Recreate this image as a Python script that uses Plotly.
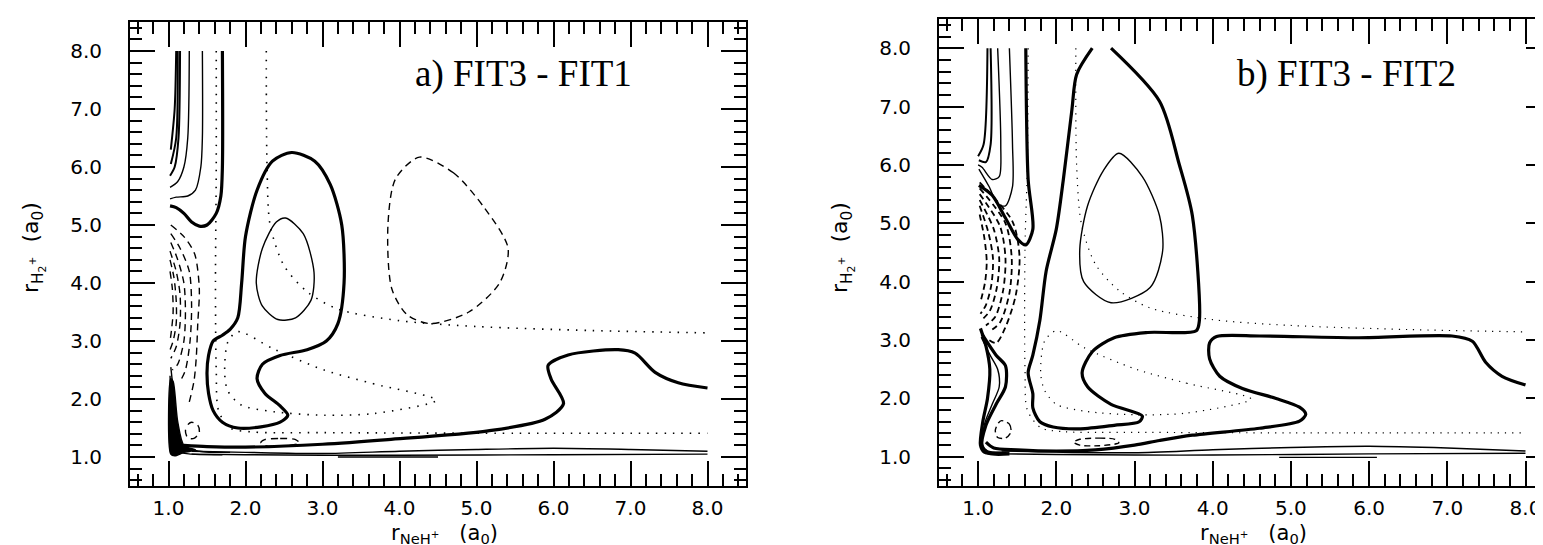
import plotly.graph_objects as go

# ---------------- axis / label data ----------------
TICK_VALS = [1, 2, 3, 4, 5, 6, 7, 8]
TICK_TEXT = ["1.0", "2.0", "3.0", "4.0", "5.0", "6.0", "7.0", "8.0"]
PANEL_TITLES = ["a) FIT3 - FIT1", "b) FIT3 - FIT2"]
X_TITLE = "r<sub>NeH<sup>+</sup></sub>   (a<sub>0</sub>)"
Y_TITLE = "r<sub>H<sub>2</sub><sup>+</sup></sub>  (a<sub>0</sub>)"

# ---------------- panel a contour traces (data coords) ----------------
a_thick1_x = [1.70, 1.58, 1.52, 1.50, 1.52, 1.58, 1.70, 1.90, 2.20, 2.45, 2.55, 2.45, 2.25, 2.15, 2.22, 2.45, 2.80, 3.05, 3.20, 3.28, 3.25, 3.10, 2.90, 2.60, 2.35, 2.15, 2.00, 1.95, 1.90, 1.80, 1.70]
a_thick1_y = [3.10, 3.00, 2.75, 2.45, 2.10, 1.80, 1.60, 1.50, 1.52, 1.60, 1.72, 1.88, 2.10, 2.35, 2.60, 2.75, 2.85, 3.00, 3.30, 4.00, 5.00, 5.70, 6.10, 6.25, 6.10, 5.60, 4.80, 4.00, 3.40, 3.20, 3.10]
a_thick2_x = [1.20, 1.50, 2.00, 3.00, 3.85, 5.15, 5.89, 6.13, 5.97, 5.93, 6.19, 6.84, 7.06, 7.32, 7.62, 8.00]
a_thick2_y = [1.20, 1.18, 1.17, 1.22, 1.30, 1.45, 1.65, 1.92, 2.34, 2.58, 2.76, 2.85, 2.79, 2.46, 2.28, 2.19]
a_thick3_x = [1.70, 1.70, 1.68, 1.62, 1.50, 1.40, 1.30, 1.20, 1.10, 1.02]
a_thick3_y = [8.00, 6.00, 5.50, 5.20, 5.00, 4.98, 5.05, 5.20, 5.30, 5.33]
a_thin_top1_x = [1.44, 1.44, 1.42, 1.35, 1.25, 1.10, 1.02]
a_thin_top1_y = [8.00, 6.50, 6.00, 5.60, 5.50, 5.48, 5.45]
a_thin_top2_x = [1.27, 1.25, 1.20, 1.12, 1.02]
a_thin_top2_y = [8.00, 6.50, 6.00, 5.75, 5.65]
a_thin_top3_x = [1.15, 1.13, 1.08, 1.02]
a_thin_top3_y = [8.00, 6.50, 6.00, 5.85]
a_thin_top4_x = [1.12, 1.10, 1.03]
a_thin_top4_y = [8.00, 6.50, 6.05]
a_thin_top5_x = [1.10, 1.08, 1.03]
a_thin_top5_y = [8.00, 7.00, 6.30]
a_thin_loop_x = [2.52, 2.75, 2.89, 2.85, 2.65, 2.42, 2.22, 2.14, 2.22, 2.40, 2.52]
a_thin_loop_y = [5.12, 4.85, 4.18, 3.70, 3.40, 3.37, 3.60, 4.00, 4.60, 5.05, 5.12]
a_thin_bot1_x = [1.30, 2.00, 3.00, 4.00, 5.00, 6.00, 7.00, 8.00]
a_thin_bot1_y = [1.10, 1.08, 1.06, 1.10, 1.13, 1.15, 1.13, 1.10]
a_thin_bot2_x = [1.30, 2.00, 3.00, 4.00, 6.00, 8.00]
a_thin_bot2_y = [1.05, 1.04, 1.03, 1.03, 1.04, 1.05]
a_thin_bot3_x = [3.20, 3.80, 4.50]
a_thin_bot3_y = [1.00, 1.00, 1.00]
a_thin_wall1_x = [1.03, 1.05, 1.10, 1.18, 1.40, 1.80]
a_thin_wall1_y = [2.55, 2.30, 1.60, 1.20, 1.10, 1.08]
a_thin_wall2_x = [1.02, 1.03, 1.06, 1.12, 1.30, 1.70]
a_thin_wall2_y = [2.40, 2.00, 1.40, 1.10, 1.05, 1.04]
a_dash_loop_x = [4.26, 4.70, 5.10, 5.41, 5.30, 4.90, 4.40, 4.10, 3.90, 3.85, 3.95, 4.26]
a_dash_loop_y = [6.17, 5.90, 5.30, 4.60, 4.00, 3.50, 3.30, 3.45, 3.90, 5.00, 5.80, 6.17]
a_dash_l1_x = [1.03, 1.20, 1.34, 1.40, 1.38, 1.36, 1.33, 1.27]
a_dash_l1_y = [5.00, 4.80, 4.50, 3.90, 3.30, 2.70, 2.30, 1.95]
a_dash_l2_x = [1.03, 1.15, 1.27, 1.30, 1.28, 1.22, 1.15]
a_dash_l2_y = [4.85, 4.60, 4.20, 3.60, 3.00, 2.50, 2.30]
a_dash_l3_x = [1.03, 1.12, 1.20, 1.22, 1.20, 1.12, 1.05]
a_dash_l3_y = [4.70, 4.40, 4.00, 3.50, 3.00, 2.60, 2.50]
a_dash_l4_x = [1.02, 1.10, 1.15, 1.15, 1.10, 1.03]
a_dash_l4_y = [4.55, 4.20, 3.80, 3.30, 2.90, 2.70]
a_dash_l5_x = [1.02, 1.07, 1.10, 1.10, 1.06, 1.02]
a_dash_l5_y = [4.40, 4.10, 3.70, 3.30, 3.00, 2.85]
a_dash_l6_x = [1.02, 1.05, 1.06, 1.04, 1.02]
a_dash_l6_y = [4.20, 3.90, 3.50, 3.20, 3.00]
a_dash_s1_x = [1.30, 1.38, 1.40, 1.33, 1.25, 1.22, 1.26, 1.30]
a_dash_s1_y = [1.60, 1.55, 1.42, 1.32, 1.33, 1.45, 1.57, 1.60]
a_dash_s2_x = [2.25, 2.45, 2.65, 2.70, 2.50, 2.25, 2.20, 2.25]
a_dash_s2_y = [1.30, 1.32, 1.30, 1.24, 1.19, 1.20, 1.25, 1.30]
a_dot1_x = [1.62, 1.62, 1.61, 1.62, 1.65, 1.80, 2.10, 3.00, 5.00, 8.00]
a_dot1_y = [8.00, 6.00, 4.00, 2.50, 1.80, 1.50, 1.43, 1.42, 1.41, 1.41]
a_dot2_x = [2.27, 2.28, 2.32, 2.50, 2.80, 3.20, 4.00, 5.00, 6.50, 8.00]
a_dot2_y = [8.00, 6.00, 5.00, 4.30, 3.85, 3.55, 3.35, 3.25, 3.18, 3.14]
a_dot3_x = [4.48, 3.67, 3.02, 2.37, 1.90, 1.77, 1.73, 1.77, 1.94, 2.37, 3.02, 3.67, 4.48]
a_dot3_y = [1.98, 2.26, 2.50, 2.86, 3.16, 2.98, 2.44, 2.14, 1.90, 1.78, 1.72, 1.75, 1.98]
a_wedge_x = [1.03, 1.06, 1.12, 1.20, 1.35, 1.20, 1.08, 1.03, 1.03]
a_wedge_y = [2.35, 2.30, 1.60, 1.20, 1.12, 1.08, 1.02, 1.05, 2.35]

# ---------------- panel b contour traces ----------------
b_thick1_x = [2.46, 2.26, 2.20, 2.09, 2.00, 1.87, 1.79, 1.70, 1.64, 1.70, 1.70, 1.79, 1.96, 2.31, 2.74, 3.06, 3.10, 2.70, 2.40, 2.33, 2.46, 2.74, 3.17, 3.79, 3.83, 3.74, 3.57, 3.32, 2.70]
b_thick1_y = [8.00, 7.55, 6.95, 5.75, 4.90, 4.18, 3.34, 2.74, 2.44, 2.08, 1.84, 1.60, 1.51, 1.48, 1.54, 1.60, 1.70, 1.90, 2.20, 2.44, 2.80, 3.04, 3.13, 3.16, 3.34, 5.13, 6.02, 7.09, 8.00]
b_thick2_x = [8.00, 7.70, 7.49, 7.32, 7.06, 5.87, 4.60, 4.05, 3.96, 3.96, 4.09, 4.38, 4.81, 5.11, 5.19, 5.11, 4.60, 3.74, 3.32, 3.00, 2.50, 2.00, 1.50, 1.20, 1.10]
b_thick2_y = [2.23, 2.38, 2.62, 2.98, 3.07, 3.04, 3.07, 3.06, 2.95, 2.68, 2.38, 2.17, 2.00, 1.85, 1.73, 1.61, 1.49, 1.37, 1.28, 1.20, 1.12, 1.10, 1.12, 1.15, 1.25]
b_thick3_x = [1.61, 1.64, 1.70, 1.61, 1.51, 1.35, 1.18, 1.01]
b_thick3_y = [8.00, 5.75, 4.90, 4.63, 4.72, 5.09, 5.48, 5.65]
b_thick4_x = [1.05, 1.23, 1.35, 1.35, 1.23, 1.10, 1.05, 1.14, 1.40]
b_thick4_y = [3.10, 2.74, 2.56, 2.20, 1.90, 1.54, 1.18, 1.06, 1.05]
b_thick5_x = [1.03, 1.10, 1.15, 1.12, 1.06, 1.03, 1.08, 1.30]
b_thick5_y = [3.20, 2.90, 2.50, 2.00, 1.60, 1.20, 1.08, 1.06]
b_thin_top1_x = [1.40, 1.44, 1.44, 1.35, 1.25, 1.14, 1.01]
b_thin_top1_y = [8.00, 6.35, 5.63, 5.30, 5.33, 5.63, 5.93]
b_thin_top2_x = [1.25, 1.29, 1.27, 1.18, 1.05, 1.00]
b_thin_top2_y = [8.00, 6.35, 5.80, 5.75, 5.96, 6.00]
b_thin_top3_x = [1.16, 1.16, 1.10, 1.01]
b_thin_top3_y = [8.00, 6.35, 6.05, 6.08]
b_thin_top4_x = [1.12, 1.07, 1.00]
b_thin_top4_y = [8.00, 6.35, 6.15]
b_thin_loop_x = [2.80, 3.10, 3.32, 3.36, 3.20, 2.70, 2.35, 2.30, 2.40, 2.60, 2.80]
b_thin_loop_y = [6.20, 5.80, 5.13, 4.53, 3.90, 3.64, 4.00, 4.55, 5.30, 5.90, 6.20]
b_thin_bot1_x = [1.30, 2.00, 3.00, 4.00, 5.00, 6.00, 7.00, 8.00]
b_thin_bot1_y = [1.10, 1.08, 1.07, 1.12, 1.16, 1.18, 1.15, 1.10]
b_thin_bot2_x = [1.30, 2.00, 3.00, 4.00, 6.00, 8.00]
b_thin_bot2_y = [1.05, 1.04, 1.03, 1.03, 1.05, 1.06]
b_thin_bot3_x = [4.85, 5.50, 6.10]
b_thin_bot3_y = [0.99, 0.99, 0.99]
b_thin_wall1_x = [1.04, 1.15, 1.25, 1.27, 1.18, 1.08, 1.06, 1.12, 1.40]
b_thin_wall1_y = [3.05, 2.75, 2.50, 2.20, 1.90, 1.55, 1.20, 1.10, 1.08]
b_dash_l1_x = [1.02, 1.44, 1.53, 1.48, 1.35, 1.23, 1.10]
b_dash_l1_y = [5.70, 5.03, 4.42, 3.76, 3.22, 2.95, 3.04]
b_dash_l2_x = [1.02, 1.35, 1.43, 1.40, 1.28, 1.15]
b_dash_l2_y = [5.60, 5.00, 4.40, 3.80, 3.30, 3.15]
b_dash_l3_x = [1.02, 1.28, 1.35, 1.32, 1.22, 1.10]
b_dash_l3_y = [5.50, 4.95, 4.40, 3.85, 3.40, 3.25]
b_dash_l4_x = [1.02, 1.20, 1.27, 1.24, 1.15, 1.05]
b_dash_l4_y = [5.40, 4.90, 4.40, 3.90, 3.50, 3.35]
b_dash_l5_x = [1.02, 1.13, 1.19, 1.17, 1.10, 1.03]
b_dash_l5_y = [5.30, 4.85, 4.40, 3.95, 3.60, 3.45]
b_dash_l6_x = [1.02, 1.08, 1.11, 1.09, 1.03]
b_dash_l6_y = [5.15, 4.75, 4.35, 4.00, 3.65]
b_dash_s1_x = [1.30, 1.40, 1.42, 1.35, 1.25, 1.22, 1.26, 1.30]
b_dash_s1_y = [1.62, 1.56, 1.42, 1.32, 1.33, 1.45, 1.58, 1.62]
b_dash_s2_x = [2.30, 2.55, 2.75, 2.80, 2.55, 2.30, 2.22, 2.30]
b_dash_s2_y = [1.30, 1.32, 1.30, 1.24, 1.19, 1.20, 1.25, 1.30]
b_dot1_x = [1.64, 1.63, 1.60, 1.60, 1.63, 1.80, 2.10, 3.00, 5.00, 8.00]
b_dot1_y = [8.00, 6.00, 4.60, 2.50, 1.80, 1.50, 1.43, 1.42, 1.41, 1.41]
b_dot2_x = [2.25, 2.26, 2.32, 2.50, 2.80, 3.20, 4.00, 5.00, 6.50, 8.00]
b_dot2_y = [8.00, 6.00, 5.00, 4.30, 3.85, 3.55, 3.35, 3.25, 3.18, 3.14]
b_dot3_x = [4.49, 3.67, 3.02, 2.37, 2.00, 1.85, 1.80, 1.85, 2.00, 2.37, 3.02, 3.67, 4.49]
b_dot3_y = [1.99, 2.26, 2.50, 2.86, 3.16, 2.98, 2.44, 2.14, 1.90, 1.78, 1.72, 1.75, 1.99]

THICK, THIN, MED = 3.2, 1.4, 2.0

fig = go.Figure()

def add_line(x, y, panel, width, dash="solid", fill=None):
    fig.add_trace(go.Scatter(
        x=x, y=y, mode="lines",
        line=dict(color="black", width=width, dash=dash, shape="spline", smoothing=0.8),
        fill=fill, fillcolor="black" if fill else None,
        xaxis="x" if panel == 1 else "x2", yaxis="y" if panel == 1 else "y2",
        showlegend=False, hoverinfo="skip"))

# panel a
for xs, ys in [(a_thick1_x, a_thick1_y), (a_thick2_x, a_thick2_y), (a_thick3_x, a_thick3_y)]:
    add_line(xs, ys, 1, THICK)
for xs, ys in [(a_thin_top1_x, a_thin_top1_y), (a_thin_top2_x, a_thin_top2_y), (a_thin_loop_x, a_thin_loop_y),
               (a_thin_bot1_x, a_thin_bot1_y), (a_thin_bot2_x, a_thin_bot2_y), (a_thin_bot3_x, a_thin_bot3_y),
               (a_thin_wall1_x, a_thin_wall1_y), (a_thin_wall2_x, a_thin_wall2_y)]:
    add_line(xs, ys, 1, THIN)
for xs, ys in [(a_thin_top3_x, a_thin_top3_y), (a_thin_top4_x, a_thin_top4_y), (a_thin_top5_x, a_thin_top5_y)]:
    add_line(xs, ys, 1, MED)
for xs, ys in [(a_dash_loop_x, a_dash_loop_y), (a_dash_l1_x, a_dash_l1_y), (a_dash_l2_x, a_dash_l2_y),
               (a_dash_l3_x, a_dash_l3_y), (a_dash_l4_x, a_dash_l4_y), (a_dash_l5_x, a_dash_l5_y),
               (a_dash_l6_x, a_dash_l6_y), (a_dash_s1_x, a_dash_s1_y), (a_dash_s2_x, a_dash_s2_y)]:
    add_line(xs, ys, 1, THIN, dash="7px,5px")
for xs, ys in [(a_dot1_x, a_dot1_y), (a_dot2_x, a_dot2_y), (a_dot3_x, a_dot3_y)]:
    add_line(xs, ys, 1, 1.6, dash="1.5px,7px")
add_line(a_wedge_x, a_wedge_y, 1, 1.5, fill="toself")

# panel b
for xs, ys in [(b_thick1_x, b_thick1_y), (b_thick2_x, b_thick2_y), (b_thick3_x, b_thick3_y),
               (b_thick4_x, b_thick4_y), (b_thick5_x, b_thick5_y)]:
    add_line(xs, ys, 2, THICK)
for xs, ys in [(b_thin_top1_x, b_thin_top1_y), (b_thin_top2_x, b_thin_top2_y), (b_thin_loop_x, b_thin_loop_y),
               (b_thin_bot1_x, b_thin_bot1_y), (b_thin_bot2_x, b_thin_bot2_y), (b_thin_bot3_x, b_thin_bot3_y),
               (b_thin_wall1_x, b_thin_wall1_y)]:
    add_line(xs, ys, 2, THIN)
for xs, ys in [(b_thin_top3_x, b_thin_top3_y), (b_thin_top4_x, b_thin_top4_y)]:
    add_line(xs, ys, 2, MED)
for xs, ys in [(b_dash_l1_x, b_dash_l1_y), (b_dash_l2_x, b_dash_l2_y), (b_dash_l3_x, b_dash_l3_y),
               (b_dash_l4_x, b_dash_l4_y), (b_dash_l5_x, b_dash_l5_y), (b_dash_l6_x, b_dash_l6_y)]:
    add_line(xs, ys, 2, 1.8, dash="6px,4px")
for xs, ys in [(b_dash_s1_x, b_dash_s1_y), (b_dash_s2_x, b_dash_s2_y)]:
    add_line(xs, ys, 2, THIN, dash="6px,4px")
for xs, ys in [(b_dot1_x, b_dot1_y), (b_dot2_x, b_dot2_y), (b_dot3_x, b_dot3_y)]:
    add_line(xs, ys, 2, 1.2, dash="1.2px,6px")

W, H = 1543, 545
TICKFONT = dict(family="DejaVu Sans", size=20, color="black")

def axis_common(rng, domain, anchor, show_labels=True):
    return dict(
        range=rng, domain=domain, anchor=anchor,
        tickmode="array", tickvals=TICK_VALS, ticktext=TICK_TEXT,
        showticklabels=show_labels, tickfont=TICKFONT,
        ticks="inside", ticklen=25, tickwidth=2, tickcolor="black",
        minor=dict(dtick=0.2, tick0=0, ticks="inside", ticklen=12, tickwidth=1.5, tickcolor="black"),
        showline=True, linecolor="black", linewidth=2, mirror="allticks",
        showgrid=False, zeroline=False, fixedrange=True, ticklabelstandoff=22)

fig.update_layout(
    width=W, height=H, margin=dict(l=0, r=0, t=0, b=0, autoexpand=False),
    paper_bgcolor="white", plot_bgcolor="white",
    xaxis=axis_common([0.5, 8.5], [122 / W, 738 / W], "y"),
    yaxis=axis_common([0.5, 8.5], [1 - 478 / H, 1 - 14 / H], "x"),
    xaxis2=axis_common([0.5, 0.5 + (W - 931) / 78.2], [931 / W, 1.0], "y2"),
    yaxis2=axis_common([0.5, 8.5], [1 - 478 / H, 1 - 11 / H], "x2"),
)
fig.update_xaxes(ticklabelstandoff=3)

ann = []
for i, (cx, cy, xr, yr) in enumerate([(5.61, 7.60, "x", "y"), (5.71, 7.56, "x2", "y2")]):
    ann.append(dict(x=cx, y=cy, xref=xr, yref=yr, text=PANEL_TITLES[i], showarrow=False,
                    font=dict(family="Liberation Serif", size=37, color="black"),
                    xanchor="center", yanchor="middle"))
for cx in [436 / W, 1245 / W]:
    ann.append(dict(x=cx, y=1 - 526 / H, xref="paper", yref="paper", text=X_TITLE, showarrow=False,
                    font=dict(family="DejaVu Sans", size=21, color="black"), xanchor="center", yanchor="middle"))
for cx in [25 / W, 834 / W]:
    ann.append(dict(x=cx, y=1 - 240 / H, xref="paper", yref="paper", text=Y_TITLE, showarrow=False,
                    textangle=-90, font=dict(family="DejaVu Sans", size=22, color="black"),
                    xanchor="center", yanchor="middle"))
fig.update_layout(annotations=ann)

fig.write_html("out.html")
